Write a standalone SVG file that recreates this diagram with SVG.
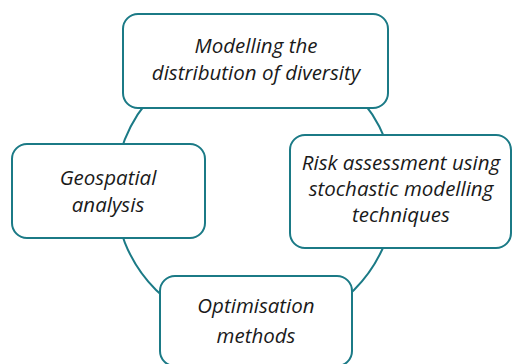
<svg xmlns="http://www.w3.org/2000/svg" width="512" height="364" viewBox="0 0 512 364">
  <style>
    .box { fill: #ffffff; stroke: #1b7a86; stroke-width: 2; }
    .ring { fill: none; stroke: #1b7a86; stroke-width: 2; }
    .lbl { font-family: "Open Sans", "Noto Sans", sans-serif; font-style: italic; font-size: 20.5px; fill: #1a1a1a; text-anchor: middle; }
  </style>
  <rect width="512" height="364" fill="#ffffff"/>
  <g id="connectors">
    <circle class="ring" cx="255" cy="191" r="140"/>
  </g>
  <g id="node-top">
    <rect class="box" x="123" y="14" width="265" height="94" rx="15"/>
    <text class="lbl" x="256" y="53">Modelling the</text>
    <text class="lbl" x="256" y="80">distribution of diversity</text>
  </g>
  <g id="node-right">
    <rect class="box" x="290" y="135" width="221" height="113" rx="15"/>
    <text class="lbl" x="401" y="170">Risk assessment using</text>
    <text class="lbl" x="401" y="196">stochastic modelling</text>
    <text class="lbl" x="401" y="222">techniques</text>
  </g>
  <g id="node-left">
    <rect class="box" x="12" y="144" width="193" height="94" rx="15"/>
    <text class="lbl" x="108" y="185">Geospatial</text>
    <text class="lbl" x="108" y="212">analysis</text>
  </g>
  <g id="node-bottom">
    <rect class="box" x="160" y="276" width="192" height="90" rx="15"/>
    <text class="lbl" x="256" y="313">Optimisation</text>
    <text class="lbl" x="256" y="343">methods</text>
  </g>
</svg>
